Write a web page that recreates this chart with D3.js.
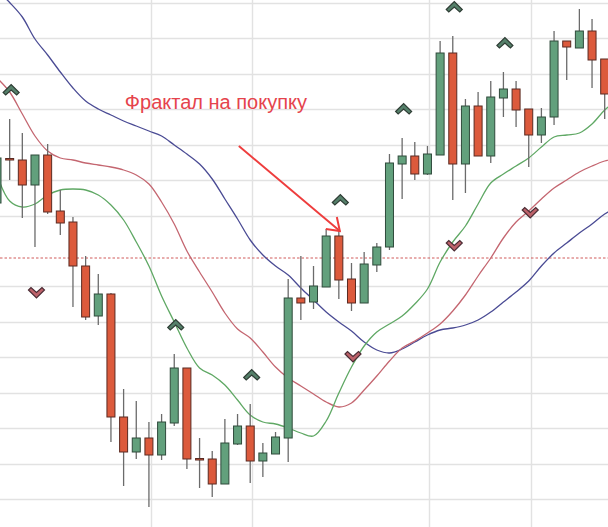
<!DOCTYPE html>
<html>
<head>
<meta charset="utf-8">
<script src="https://cdn.jsdelivr.net/npm/d3@7"></script>
<style>
  html, body { margin: 0; padding: 0; background: #ffffff; }
  svg { display: block; }
</style>
</head>
<body>
<div id="chart"></div>
<script>
// ---- Data (price units) ----
const candleIndex = d3.range(49);
const open  = [327,371.5,370,345,375,319,308,264,214,236,113,78,92,75,107,162,71.5,71,46,86,104,69,76,92,232,228,243,294,251,227,265,283,366,374,356,375,477,366,424,374,432,441,421,395,413,489,482,499,471];
const high  = [375,411,397,375,386,340,313,274,256,237,141,129,108,116,176,162,92,79,111,116,126,87,98,251,274,264,301,301,267,278,287,376,392,388,384,489,494,431,438,449,458,449,421,422,499,489,521,511,471];
const low   = [320,350,312,283,316,295,223,210,205,88,44,71,23,70,104,61,42,33,46,85,47,53,76,68,210,221,243,231,219,227,258,280,331,350,355,375,330,337,374,367,413,403,363,387,405,450,482,442,411];
const close = [372,370,345,375,318,307,264,213,236,113,78,92,75,108,162,71,70,46,87,104,69,77,93,232,227,244,294,250,227,266,283,367,374,356,376,477,366,424,374,433,441,420,395,413,489,483,499,470,436];

// Alligator lines, one value per candle index (0..49)
const jaw   = [540,527.5,513,491,475,458,442,429,421,415,409,404,399,394,385,376,366,351,331,311,290,275,264,255,242,230,218,208,199,188,180,177,181,188,195,200,202,205,210,218,228,238,249,264,277,287,297,306,316,323];
const teeth = [452,438,416,394,379,372,370,367,365,363,360,355,346,328,306,279,258,238,217,201,192,178,163,152,144,136,128,123,127,140,154,169,182,189,197,206,219,235,254,272,292,308,319,331,342,350,358,364,369,372];
const lips  = [355,329,323,326,335,340,341,340,335,325,310,288,264,234,208,182,162,155,145,130,115,108,106,102,97,94,109,137,163,184,198,206,214,226,241,268,288,304,326,347,356,364,372,383,393,395,397,406,420,430];

const upFractals   = [1,14,20,27,32,36,40];
const downFractals = [3,28,36,42];

const gridPrices  = [31,66.4,101.8,137.3,172.7,208.2,243.6,314.5,349.9,385.4,420.8,456.3,491.7,527.1];
const gridCandles = [12.15,20.15,34.15,42.15];
const levelPrice  = 272;
const annotationText = "Фрактал на покупку";
const annotationTarget = 27;

// ---- Chart ----
const W = 608, H = 527;
const svg = d3.select("#chart").append("svg").attr("width", W).attr("height", H);

const x = d3.scaleLinear().domain([0, 48]).range([-3, 604.7]);
const y = d3.scaleLinear().domain([3, 530]).range([H, 0]);

const bodyW = 8;

// grid
svg.append("g").selectAll("line.h").data(gridPrices).join("line")
  .attr("x1", 0).attr("x2", W)
  .attr("y1", d => Math.round(y(d)) + 0.5).attr("y2", d => Math.round(y(d)) + 0.5)
  .attr("stroke", "#e2e2e2").attr("stroke-width", 1.4);
svg.append("g").selectAll("line.v").data(gridCandles).join("line")
  .attr("y1", 0).attr("y2", H)
  .attr("x1", d => Math.round(x(d)) + 0.5).attr("x2", d => Math.round(x(d)) + 0.5)
  .attr("stroke", "#e2e2e2").attr("stroke-width", 1.4);

// level dashed line
svg.append("line")
  .attr("x1", 0).attr("x2", W)
  .attr("y1", y(levelPrice)).attr("y2", y(levelPrice))
  .attr("stroke", "#d05a5a").attr("stroke-width", 1)
  .attr("stroke-dasharray", "2.5,2");

// alligator lines
const lineGen = arr => d3.line()
  .x((d, i) => x(i)).y(d => y(d))
  .curve(d3.curveCatmullRom.alpha(0.5))(arr);

[[jaw, "#4a4b94"], [teeth, "#c46670"], [lips, "#5fa864"]].forEach(([arr, col]) => {
  svg.append("path").attr("d", lineGen(arr))
    .attr("fill", "none").attr("stroke", col).attr("stroke-width", 1.3);
});

// candles
const g = svg.append("g");
candleIndex.forEach(i => {
  const up = close[i] > open[i];
  g.append("line")
    .attr("x1", x(i)).attr("x2", x(i))
    .attr("y1", y(high[i])).attr("y2", y(low[i]))
    .attr("stroke", "#6b6b6b").attr("stroke-width", 1.3);
  const top = y(Math.max(open[i], close[i]));
  const bot = y(Math.min(open[i], close[i]));
  g.append("rect")
    .attr("x", x(i) - bodyW / 2).attr("width", bodyW)
    .attr("y", top).attr("height", Math.max(1.5, bot - top))
    .attr("fill", up ? "#62a07c" : "#dc5a3c")
    .attr("stroke", up ? "#2f4a3b" : "#5a2a22")
    .attr("stroke-width", 1);
});

// fractal markers
const chevronUp = "M-8,3 L0,-5 L8,3 L5.5,5.5 L0,0.5 L-5.5,5.5 Z";
const chevronDown = "M-8,-3 L0,5 L8,-3 L5.5,-5.5 L0,-0.5 L-5.5,-5.5 Z";
svg.append("g").selectAll("path").data(upFractals).join("path")
  .attr("d", chevronUp)
  .attr("transform", d => `translate(${x(d) + 1.5},${y(high[d]) - 29.5})`)
  .attr("fill", "#55806a").attr("stroke", "#2f3d35").attr("stroke-width", 1.2);
svg.append("g").selectAll("path").data(downFractals).join("path")
  .attr("d", chevronDown)
  .attr("transform", d => `translate(${x(d) + 1.5},${y(low[d]) + 46})`)
  .attr("fill", "#bd626a").attr("stroke", "#4a2c34").attr("stroke-width", 1.2);

// annotation
const tx = x(annotationTarget) + 1, ty = y(high[annotationTarget]) + 2;
const ann = svg.append("g").attr("stroke", "#ee3d3d").attr("stroke-width", 2).attr("fill", "none");
ann.append("line").attr("x1", tx - 101).attr("y1", ty - 85).attr("x2", tx).attr("y2", ty);
ann.append("path").attr("d", `M${tx - 3},${ty - 14} L${tx},${ty} L${tx - 14},${ty - 2}`);
svg.append("text")
  .attr("x", tx - 215).attr("y", ty - 122)
  .attr("font-family", "Liberation Sans, Arial, sans-serif")
  .attr("font-size", 20)
  .attr("fill", "#e5434c")
  .text(annotationText);
</script>
</body>
</html>
